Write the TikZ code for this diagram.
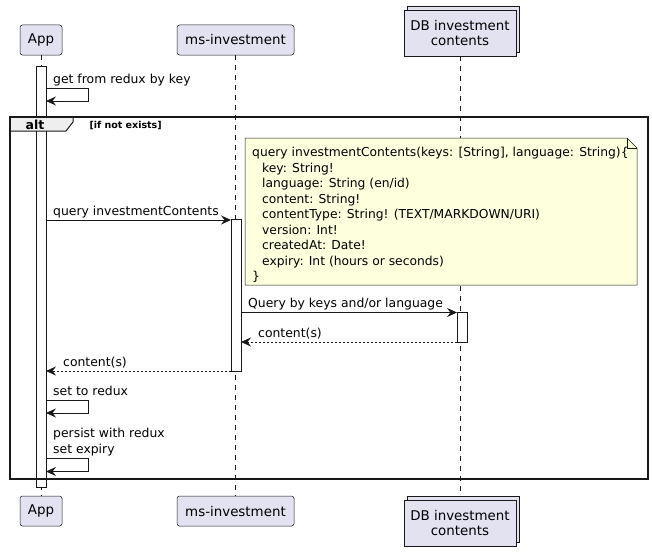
\documentclass[tikz,border=0pt]{standalone}
\usepackage{fontspec}
\setmainfont{DejaVu Sans}
\usetikzlibrary{arrows.meta}
\definecolor{partfill}{HTML}{E2E2F0}
\definecolor{notefill}{HTML}{FEFFDD}
\definecolor{ink}{HTML}{181818}
\definecolor{tabfill}{HTML}{EEEEEE}

\begin{document}
\begin{tikzpicture}[x=1pt,y=-1pt]
\tikzstyle{part}=[rectangle, rounded corners=2.5pt, draw=ink, fill=partfill,
                        line width=0.5pt, minimum height=30pt, inner sep=0pt, font=\fontsize{13.4}{15.5}\selectfont]
\tikzstyle{dbox}=[part, rounded corners=0pt, minimum width=112pt, minimum height=46pt, align=center]
\tikzstyle{life}=[draw=ink, line width=0.5pt, dash pattern=on 5pt off 5pt]
\tikzstyle{act}=[rectangle, draw=ink, fill=white, line width=0.8pt, minimum width=10pt, inner sep=0pt]
\tikzstyle{msg}=[draw=ink, line width=0.8pt, -{Stealth[length=10pt,width=9pt,inset=3.5pt]}]
\tikzstyle{ret}=[msg, dash pattern=on 2pt off 2pt]
\tikzstyle{lbl}=[anchor=base west, inner sep=0pt, font=\fontsize{12.4}{16}\selectfont]
\useasboundingbox (0,0) rectangle (652,551);
% participants
	\node[part, minimum width=42pt] (A) at (41,40){App};
	\node[part, minimum width=117pt] (M) at (235.5,40){ms-investment};
	\node[dbox] (Dback) at (463.5,29){};
	\node[dbox] (D) at (460,33){DB investment\\contents};
	\node[part, minimum width=42pt] (A2) at (41,511){App};
	\node[part, minimum width=117pt] (M2) at (235.5,511){ms-investment};
	\node[dbox] (D2back) at (463.5,519){};
	\node[dbox] (D2) at (460,523){DB investment\\contents};
\draw[life] (A.south)--(A2.north) (M.south)--(M2.north) (D.south)--(D.south |- D2back.north);
% activations
	\node[act, minimum height=421pt] (Aact) at (41,276.5){};
	\node[act, minimum height=152pt] (Mact) at (236,295){};
	\node[act, minimum height=29.5pt] (Dact) at (462,327.5){};
% alt frame
\draw[ink, line width=1pt, fill=tabfill] (10,117)--(73,117)--(73,122)--(66,131)--(10,131)--cycle;
\draw[ink, line width=1.5pt] (10,117) rectangle (648,479);
	\node[font=\bfseries\fontsize{12.5}{14}\selectfont] (alt) at (35,124.5){alt};
	\node[anchor=west, font=\bfseries\fontsize{9.5}{11}\selectfont] (cond) at (86,126){[if not exists]};
% note
\draw[ink, line width=0.5pt, fill=notefill] (245,138)--(627,138)--(637,148)--(637,285)--(245,285)--cycle;
\draw[ink, line width=0.5pt] (627,138)--(627,148)--(637,148);
	\node[anchor=west, align=left, inner sep=0pt, font=\fontsize{12.3}{15.5}\selectfont] (note) at (252,215){query investmentContents(keys: [String], language: String)\{\\
\hspace*{10pt}key: String!\\
\hspace*{10pt}language: String (en/id)\\
\hspace*{10pt}content: String!\\
\hspace*{10pt}contentType: String! (TEXT/MARKDOWN/URI)\\
\hspace*{10pt}version: Int!\\
\hspace*{10pt}createdAt: Date!\\
\hspace*{10pt}expiry: Int (hours or seconds)\\
\}};
% messages
\coordinate (g1) at (46,88); \coordinate (g2) at (46,101);
\draw[msg] (g1)--++(42,0)|-(g2);
	\node[lbl] (gl) at (53,83){get from redux by key};
\coordinate (q1) at (46,220); \coordinate (q2) at (231,220);
\draw[msg] (q1)--(q2);
	\node[lbl] (ql) at (53,215){query investmentContents};
\coordinate (k1) at (241,312.5); \coordinate (k2) at (457,312.5);
\draw[msg] (k1)--(k2);
	\node[lbl] (kl) at (248,307.5){Query by keys and/or language};
\coordinate (c1) at (457,342); \coordinate (c2) at (241,342);
\draw[ret] (c1)--(c2);
	\node[lbl] (cl) at (258,337){content(s)};
\coordinate (r1) at (231,371); \coordinate (r2) at (46,371);
\draw[ret] (r1)--(r2);
	\node[lbl] (rl) at (63,366){content(s)};
\coordinate (s1) at (46,400.5); \coordinate (s2) at (46,413);
\draw[msg] (s1)--++(42,0)|-(s2);
	\node[lbl] (sl) at (53,395.5){set to redux};
\coordinate (p1) at (46,458); \coordinate (p2) at (46,471.5);
\draw[msg] (p1)--++(42,0)|-(p2);
	\node[lbl] (pl) at (53,437.5){persist with redux};
	\node[lbl] (pl2) at (53,453){set expiry};
\end{tikzpicture}
\end{document}
